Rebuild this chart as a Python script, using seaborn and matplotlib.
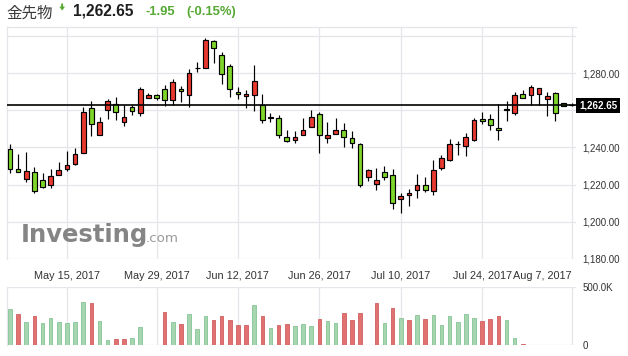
import numpy as np
import pandas as pd
import matplotlib
matplotlib.use("Agg")
import matplotlib.pyplot as plt
import matplotlib.transforms as mtransforms
from matplotlib.patches import Polygon
import seaborn as sns

# ---------------- data ----------------
opens = [1238.9, 1228.6, 1223.2, 1227.0, 1222.3, 1219.5, 1225.4, 1228.6, 1231.3, 1237.1,
         1261.3, 1246.8, 1260.2, 1263.6, 1253.8, 1262.0, 1258.6, 1266.6, 1268.2, 1271.4,
         1265.5, 1271.6, 1268.2, 1282.6, 1282.7, 1297.1, 1289.6, 1283.8, 1270.0, 1267.7,
         1268.2, 1262.9, 1256.4, 1255.9, 1245.7, 1244.1, 1246.8, 1251.1, 1258.0, 1245.2,
         1247.3, 1249.6, 1245.2, 1242.0, 1224.3, 1220.5, 1227.0, 1225.0, 1212.3, 1214.1,
         1216.8, 1219.6, 1216.6, 1229.1, 1233.2, 1241.9, 1240.7, 1244.1, 1255.5, 1255.5,
         1250.5, 1260.2, 1258.6, 1268.8, 1268.2, 1268.8, 1266.1, 1269.5, 1263.9, 1262.7]
highs = [1242.1, 1236.3, 1237.3, 1229.3, 1226.1, 1228.2, 1232.0, 1237.9, 1239.5, 1262.0,
         1265.2, 1256.4, 1266.3, 1267.3, 1262.9, 1262.9, 1272.7, 1269.5, 1268.9, 1273.8,
         1277.0, 1273.2, 1282.3, 1285.9, 1298.9, 1297.9, 1291.3, 1285.0, 1272.5, 1271.1,
         1284.5, 1268.9, 1258.6, 1257.7, 1249.6, 1249.1, 1256.1, 1260.4, 1259.3, 1253.9,
         1256.1, 1253.4, 1248.6, 1242.5, 1228.2, 1228.8, 1229.8, 1228.2, 1215.4, 1217.5,
         1225.5, 1223.9, 1233.0, 1235.7, 1244.3, 1243.6, 1247.5, 1256.1, 1259.3, 1258.2,
         1263.6, 1265.2, 1270.0, 1271.1, 1273.8, 1272.1, 1270.0, 1270.0, 1264.0, 1263.9]
lows = [1226.4, 1226.9, 1221.6, 1215.2, 1218.4, 1217.9, 1225.3, 1227.5, 1230.7, 1237.0,
        1246.1, 1246.7, 1255.2, 1254.6, 1251.4, 1257.5, 1257.0, 1266.5, 1265.4, 1262.1,
        1262.9, 1264.3, 1261.6, 1280.4, 1282.6, 1285.2, 1274.1, 1267.0, 1266.1, 1261.1,
        1259.6, 1253.0, 1253.8, 1245.0, 1242.9, 1242.5, 1246.7, 1251.0, 1237.0, 1242.3,
        1247.2, 1240.4, 1239.6, 1218.9, 1222.0, 1217.1, 1222.7, 1207.0, 1204.8, 1208.2,
        1213.0, 1216.1, 1214.5, 1228.0, 1232.5, 1235.9, 1235.4, 1243.6, 1252.5, 1249.3,
        1243.9, 1254.1, 1257.3, 1266.5, 1262.9, 1262.9, 1256.8, 1254.1, 1262.4, 1262.1]
closes = [1228.6, 1227.0, 1227.5, 1216.3, 1218.9, 1224.5, 1228.0, 1230.4, 1236.6, 1258.8,
          1252.7, 1253.8, 1265.2, 1259.1, 1256.4, 1259.6, 1271.4, 1268.2, 1266.6, 1265.5,
          1275.2, 1270.4, 1280.0, 1282.7, 1297.7, 1293.4, 1279.6, 1271.4, 1268.8, 1268.8,
          1275.7, 1254.8, 1255.9, 1246.8, 1243.6, 1245.7, 1249.6, 1256.4, 1246.8, 1246.8,
          1249.6, 1245.7, 1242.5, 1219.5, 1227.7, 1222.3, 1223.8, 1209.8, 1213.8, 1215.4,
          1219.6, 1217.3, 1227.7, 1234.1, 1242.0, 1242.0, 1245.7, 1255.0, 1254.3, 1252.1,
          1249.5, 1260.7, 1268.2, 1266.6, 1272.7, 1272.0, 1267.7, 1258.6, 1262.5, 1262.65]

# volume in thousands (None = no bar drawn)
volume_k = [310, 270, 198, 252, 191, 233, 198, 192, 198, 372,
            363, 207, 43, 52, 52, 62, 155, None, None, 285,
            198, 183, 268, 138, 250, 216, 250, 216, 172, 172,
            346, 250, 147, 172, 181, 164, 182, 165, 228, 208,
            191, 277, 216, 277, None, 363, 191, 320, 234, 216,
            260, 225, 260, 173, 251, 198, 268, 233, 208, 224,
            251, 216, 60, 10]
volume_dir = ["dn", "up", "dn", "up", "dn", "dn", "dn", "dn", "dn", "dn",
              "up", "dn", "dn", "up", "up", "dn", "dn", "dn", "dn", "up",
              "dn", "up", "dn", "dn", "dn", "up", "up", "up", "up", "up",
              "dn", "up", "dn", "up", "up", "dn", "dn", "dn", "up", "dn",
              "dn", "up", "up", "up", "dn", "up", "dn", "up", "dn", "up",
              "dn", "up", "dn", "dn", "dn", "dn", "dn", "dn", "up", "up",
              "up", "dn", "dn", "up"]

tick_candle = [7, 18, 28, 38, 48, 58, 69]
tick_labels = ["May 15, 2017", "May 29, 2017", "Jun 12, 2017", "Jun 26, 2017",
               "Jul 10, 2017", "Jul 24, 2017", "Aug 7, 2017"]
price_ticks = [1180, 1200, 1220, 1240, 1260, 1280, 1300]
price_tick_labels = ["1,180.00", "1,200.00", "1,220.00", "1,240.00", "", "1,280.00", ""]
vol_ticks = [0, 500000]
vol_tick_labels = ["0", "500.0K"]
last_price = 1262.65
title_name = "金先物"
title_price = "1,262.65"
title_change = "-1.95"
title_pct = "(-0.15%)"

# ---------------- style ----------------
sns.set_style("white")
plt.rcParams['font.family'] = ['Liberation Sans', 'DejaVu Sans']

RED = "#e8392f"
GREEN = "#7ed62a"
VOL_G, VOL_GE = "#a5d6b0", "#86c495"
VOL_R, VOL_RE = "#e27272", "#cf6060"
GRID = "#e4e6eb"
TXT = "#333333"
HDR_GREEN = "#55a832"

W, H = 628, 356
fig = plt.figure(figsize=(W / 100, H / 100), dpi=100)
fig.patch.set_facecolor("white")


def fx(px):
    return px / W


def fy(py):
    return 1 - py / H


L, R = 6.7, 576.0
P_TOP, P_BOT = 27.0, 258.8
V_TOP, V_BOT = 287.3, 345.3
ax = fig.add_axes([fx(L), fy(P_BOT), (R - L) / W, (P_BOT - P_TOP) / H])
axv = fig.add_axes([fx(L), fy(V_BOT), (R - L) / W, (V_BOT - V_TOP) / H])

n = len(opens)
idx = np.arange(n)
o = np.array(opens)
c = np.array(closes)
hi = np.array(highs)
lo = np.array(lows)
up = c >= o
body_col = np.where(up, RED, GREEN)

XL = (-0.405, 69.53)

# ---------------- candles ----------------
ax.vlines(idx, lo, hi, color="black", lw=0.85, zorder=3)
ax.bar(idx, np.abs(c - o), bottom=np.minimum(o, c), width=0.58, color=body_col,
       edgecolor="black", linewidth=0.85, zorder=4)
ax.axhline(last_price, color="black", lw=1.2, zorder=5)

ax.set_xlim(*XL)
ax.set_ylim(1180, 1304.85)
ax.set_xticks(tick_candle)
ax.set_xticklabels(tick_labels)
ax.set_yticks(price_ticks)
ax.set_yticklabels(price_tick_labels)
ax.yaxis.tick_right()
ax.tick_params(axis="y", length=0, pad=4.8, labelsize=7, labelcolor=TXT)
ax.tick_params(axis="x", length=0, pad=8.5, labelsize=7.8, labelcolor=TXT)
ax.get_xticklabels()[-1].set_horizontalalignment("right")
ax.grid(True, color=GRID, lw=0.9)
ax.set_axisbelow(True)
for s in ["right", "bottom"]:
    ax.spines[s].set_visible(False)
for s in ["top", "left"]:
    ax.spines[s].set_color(GRID)
    ax.spines[s].set_linewidth(0.9)

# last-price label box
trans = mtransforms.blended_transform_factory(ax.transAxes, ax.transData)
ax.text(1.0 + 3.2 / (R - L), last_price, title_price, transform=trans, ha="left", va="center",
        fontsize=7, color="white", fontweight="bold", clip_on=False, zorder=6,
        bbox=dict(boxstyle="square,pad=0.28", fc="black", ec="none"))

# ---------------- volume ----------------
vol_df = pd.DataFrame({"idx": idx[:len(volume_k)],
                       "vol": np.array(volume_k, dtype=float) * 1000,
                       "dir": volume_dir}).dropna()
for d, fc, ec in [("dn", VOL_G, VOL_GE), ("up", VOL_R, VOL_RE)]:
    sub = vol_df[vol_df["dir"] == d]
    sns.barplot(data=sub, x="idx", y="vol", native_scale=True, orient="x", width=0.44,
                color=fc, edgecolor=ec, linewidth=0.6, saturation=1, errorbar=None,
                ax=axv, zorder=3)
axv.set_xlim(*XL)
axv.set_ylim(0, 500000)
axv.set_xticks(tick_candle)
axv.set_xticklabels([])
axv.set_yticks(vol_ticks)
axv.set_yticklabels(vol_tick_labels)
axv.yaxis.tick_right()
axv.tick_params(axis="y", length=0, pad=4.8, labelsize=7, labelcolor=TXT)
axv.tick_params(axis="x", length=0)
axv.set_xlabel("")
axv.set_ylabel("")
axv.grid(True, color=GRID, lw=0.9)
axv.set_axisbelow(True)
for s in ["right", "top", "bottom"]:
    axv.spines[s].set_visible(False)
axv.spines["left"].set_color(GRID)
axv.spines["left"].set_linewidth(0.9)

# ---------------- header ----------------
fig.text(fx(6.7), fy(18.0), title_name, fontsize=11.2,
         family=["Noto Sans CJK JP", "DejaVu Sans"], color="#3a3a3a", va="baseline")
arrow_px = [(61.2, 3.5), (63.1, 3.5), (63.1, 6.6), (65.0, 6.6), (62.15, 10.5), (59.3, 6.6), (61.2, 6.6)]
fig.add_artist(Polygon([(fx(x), fy(y)) for x, y in arrow_px], closed=True,
                       transform=fig.transFigure, fc=HDR_GREEN, ec="none"))
fig.text(fx(72.7), fy(15.2), title_price, fontsize=11.2, fontweight="bold",
         color="#1e1e1e", va="baseline")
fig.text(fx(145.0), fy(15.2), title_change, fontsize=9.4, fontweight="bold",
         color=HDR_GREEN, va="baseline")
fig.text(fx(186.7), fy(15.2), title_pct, fontsize=9.4, fontweight="bold",
         color=HDR_GREEN, va="baseline")

# ---------------- watermark ----------------
wm = fig.text(fx(21.0), fy(242.3), "Investing", fontsize=17.5, fontweight="bold",
              family="DejaVu Sans", color="#858585", va="baseline", zorder=1)
fig.canvas.draw()
bb = wm.get_window_extent()
fig.text((bb.x1 - 3) / W, fy(242.3), ".com", fontsize=9.6, family="DejaVu Sans",
         color="#9a9a9a", va="baseline", zorder=1)

fig.savefig("out.png", dpi=100)
